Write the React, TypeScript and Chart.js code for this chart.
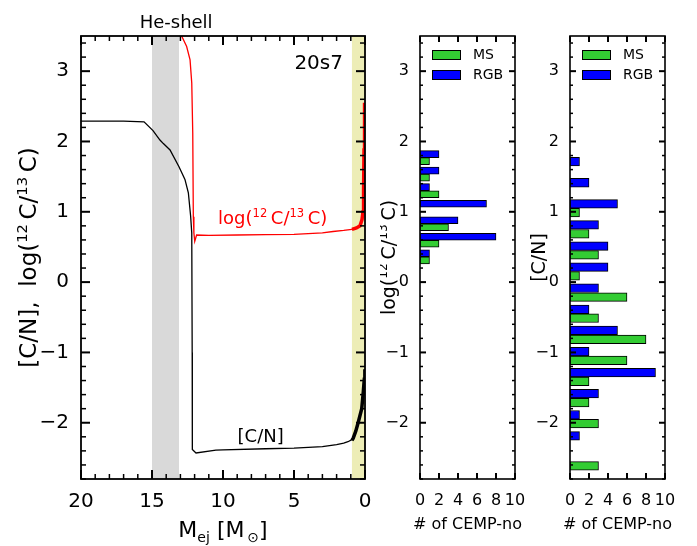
import { useEffect, useRef } from 'react';
import { Chart, registerables } from 'chart.js';

Chart.register(...registerables);

const FONT = "'DejaVu Sans', Verdana, sans-serif";

// [C/N] across the ejected mass of model 20s7 (thin part outside the outer layer)
const cnMass = [20, 17, 15.56, 14.93, 14.44, 14.2, 13.73, 13.1, 12.68, 12.44, 12.28, 12.2, 12.17, 12.16, 11.9, 10.5, 10, 7, 5, 3, 2, 1.5, 1.2, 0.92];
const cnValue = [2.29, 2.29, 2.28, 2.155, 2.02, 1.97, 1.88, 1.64, 1.46, 1.27, 0.94, 0.7, -1.0, -2.38, -2.43, -2.39, -2.385, -2.37, -2.36, -2.34, -2.31, -2.29, -2.27, -2.24];
// [C/N] in the outermost ejected layer (drawn thick)
const cnOuterMass = [0.92, 0.83, 0.65, 0.47, 0.23, 0.12, 0.05, 0.01];
const cnOuterValue = [-2.25, -2.22, -2.12, -1.99, -1.8, -1.56, -1.38, -1.24];

// log(12C/13C) across the ejected mass
const ratioMass = [13.05, 12.91, 12.56, 12.32, 12.2, 12.13, 12.09, 12.05, 11.99, 11.86, 11, 9, 7, 5, 3, 2.25, 1.5, 0.92];
const ratioValue = [3.8, 3.5, 3.35, 3.16, 2.83, 2.12, 0.93, 0.7, 0.58, 0.67, 0.665, 0.67, 0.675, 0.68, 0.7, 0.72, 0.735, 0.75];
const ratioOuterMass = [0.92, 0.6, 0.35, 0.21, 0.14, 0.1, 0.07, 0.03];
const ratioOuterValue = [0.75, 0.77, 0.8, 0.89, 1.0, 1.3, 1.88, 2.55];

// shaded mass ranges
const heShellRange = [13.1, 15];
const outerLayerRange = [0, 0.92];

// CEMP-no star counts per log(12C/13C) bin
const ratioBins = [1.77, 1.535, 1.3, 1.065, 0.83, 0.595, 0.36];
const ratioMS = [1, 1, 2, 0, 3, 2, 1];
const ratioRGB = [2, 2, 1, 7, 4, 8, 1];

// CEMP-no star counts per [C/N] bin
const cnBins = [1.65, 1.35, 1.05, 0.75, 0.45, 0.15, -0.15, -0.45, -0.75, -1.05, -1.35, -1.65, -1.95, -2.25, -2.55];
const cnMS = [0, 0, 1, 2, 3, 1, 6, 3, 8, 6, 2, 2, 3, 0, 3];
const cnRGB = [1, 2, 5, 3, 4, 4, 3, 2, 5, 2, 9, 3, 1, 1, 0];

const yMin = -2.8;
const yMax = 3.5;

type Seg = { t: string; s?: 'sup' | 'sub' };

function drawRich(
  ctx: CanvasRenderingContext2D,
  segs: Seg[],
  x: number,
  y: number,
  size: number,
  color: string,
  align: 'left' | 'center' | 'right' = 'center'
) {
  const small = size * 0.64;
  ctx.save();
  ctx.fillStyle = color;
  ctx.textAlign = 'left';
  ctx.textBaseline = 'alphabetic';
  let w = 0;
  for (const s of segs) {
    ctx.font = `${s.s ? small : size}px ${FONT}`;
    w += ctx.measureText(s.t).width;
  }
  let cx = align === 'center' ? x - w / 2 : align === 'right' ? x - w : x;
  for (const s of segs) {
    ctx.font = `${s.s ? small : size}px ${FONT}`;
    const dy = s.s === 'sup' ? -size * 0.4 : s.s === 'sub' ? size * 0.24 : 0;
    ctx.fillText(s.t, cx, y + dy);
    cx += ctx.measureText(s.t).width;
  }
  ctx.restore();
}

function drawRichVertical(ctx: CanvasRenderingContext2D, segs: Seg[], cx: number, cy: number, size: number) {
  ctx.save();
  ctx.translate(cx, cy);
  ctx.rotate(-Math.PI / 2);
  drawRich(ctx, segs, 0, size * 0.36, size, '#000');
  ctx.restore();
}

const ratioLabel: Seg[] = [
  { t: 'log(' },
  { t: '12', s: 'sup' },
  { t: '\u2009C/' },
  { t: '13', s: 'sup' },
  { t: '\u2009C)' },
];

function tickValues(lo: number, hi: number, step: number): number[] {
  const out: number[] = [];
  const first = Math.ceil(lo / step - 1e-9);
  const last = Math.floor(hi / step + 1e-9);
  for (let i = first; i <= last; i++) out.push(i * step);
  return out;
}

const isMultiple = (v: number, m: number) => Math.abs(v / m - Math.round(v / m)) < 1e-6;

// Box frame with inward ticks on all four sides
function framePlugin(o: any) {
  return {
    id: 'boxFrame',
    afterDraw(chart: any) {
      const ctx: CanvasRenderingContext2D = chart.ctx;
      const area = chart.chartArea;
      const sx = chart.scales.x;
      const sy = chart.scales.y;
      const L = area.left;
      const R = area.right;
      const T = area.top;
      const B = area.bottom;
      ctx.save();
      ctx.fillStyle = '#000';
      tickValues(o.xRange[0], o.xRange[1], o.xMinor).forEach((v) => {
        const major = isMultiple(v, o.xMajor);
        const len = major ? o.major : o.minor;
        const w = major ? o.majorW : o.minorW;
        const px = sx.getPixelForValue(v);
        ctx.fillRect(px - w / 2, B - len, w, len);
        ctx.fillRect(px - w / 2, T, w, len);
      });
      tickValues(yMin, yMax, o.yMinor).forEach((v) => {
        const major = isMultiple(v, o.yMajor);
        const len = major ? o.major : o.minor;
        const w = major ? o.majorW : o.minorW;
        const py = sy.getPixelForValue(v);
        ctx.fillRect(L, py - w / 2, len, w);
        ctx.fillRect(R - len, py - w / 2, len, w);
      });
      ctx.strokeStyle = '#000';
      ctx.lineWidth = o.lw;
      ctx.strokeRect(L, T, R - L, B - T);
      ctx.restore();
    },
  };
}

const minusLabel = (v: any) => {
  const n = Number(v);
  return n < 0 ? '\u2212' + Math.abs(n) : String(n);
};

const keepIntegers = (s: any) => {
  s.ticks = s.ticks.filter((t: any) => Math.abs(t.value - Math.round(t.value)) < 1e-6);
};

const toPoints = (xs: number[], ys: number[]) => xs.map((x, i) => ({ x, y: ys[i] }));

function mainChart(canvas: HTMLCanvasElement) {
  const annotations = {
    id: 'profileAnnotations',
    beforeDatasetsDraw(chart: any) {
      const { ctx, chartArea: a } = chart;
      const x = chart.scales.x;
      ctx.save();
      ctx.fillStyle = '#d9d9d9';
      const g0 = x.getPixelForValue(heShellRange[1]);
      const g1 = x.getPixelForValue(heShellRange[0]);
      ctx.fillRect(g0, a.top, g1 - g0, a.bottom - a.top);
      ctx.fillStyle = '#ededb6';
      const y0 = x.getPixelForValue(outerLayerRange[1]);
      const y1 = x.getPixelForValue(outerLayerRange[0]);
      ctx.fillRect(y0, a.top, y1 - y0, a.bottom - a.top);
      ctx.restore();
    },
    afterDraw(chart: any) {
      const { ctx, chartArea: a } = chart;
      const x = chart.scales.x;
      const y = chart.scales.y;
      ctx.save();
      ctx.fillStyle = '#000';
      ctx.textBaseline = 'alphabetic';
      ctx.textAlign = 'center';
      ctx.font = `18px ${FONT}`;
      ctx.fillText('He-shell', x.getPixelForValue(13.3), a.top - 8);
      ctx.textAlign = 'right';
      ctx.font = `20px ${FONT}`;
      ctx.fillText('20s7', x.getPixelForValue(1.55), y.getPixelForValue(3.13) + 7);
      ctx.textAlign = 'center';
      ctx.font = `18px ${FONT}`;
      ctx.fillText('[C/N]', x.getPixelForValue(7.35), y.getPixelForValue(-2.18) + 7);
      ctx.restore();
      drawRich(ctx, ratioLabel, x.getPixelForValue(6.5), y.getPixelForValue(0.93) + 7, 18, '#ff0000');
      drawRichVertical(ctx, [{ t: '[C/N],  log(' }, { t: '12', s: 'sup' }, { t: '\u2009C/' }, { t: '13', s: 'sup' }, { t: '\u2009C)' }], 28, (a.top + a.bottom) / 2, 23);
      drawRich(
        ctx,
        [{ t: 'M' }, { t: 'ej', s: 'sub' }, { t: ' [M' }, { t: '\u2009\u2299', s: 'sub' }, { t: ']' }],
        (a.left + a.right) / 2,
        537,
        22,
        '#000'
      );
    },
  };

  return new Chart(canvas, {
    type: 'line',
    data: {
      datasets: [
        { data: toPoints(cnMass, cnValue), borderColor: '#000', borderWidth: 1.3 },
        { data: toPoints(cnOuterMass, cnOuterValue), borderColor: '#000', borderWidth: 3.5 },
        { data: toPoints(ratioMass, ratioValue), borderColor: '#ff0000', borderWidth: 1.3 },
        { data: toPoints(ratioOuterMass, ratioOuterValue), borderColor: '#ff0000', borderWidth: 3.5 },
      ],
    },
    options: {
      animation: false,
      responsive: false,
      maintainAspectRatio: false,
      elements: { point: { radius: 0 }, line: { tension: 0 } },
      layout: { padding: { top: 36, right: 15, left: 0, bottom: 0 } },
      plugins: { legend: { display: false }, tooltip: { enabled: false } },
      scales: {
        x: {
          type: 'linear',
          reverse: true,
          min: 0,
          max: 20,
          afterFit: (s: any) => {
            s.height = 67;
          },
          afterBuildTicks: keepIntegers,
          ticks: { stepSize: 5, color: '#000', font: { family: FONT, size: 20 }, padding: 3, maxRotation: 0, autoSkip: false },
          grid: { display: false },
          border: { display: false },
        },
        y: {
          type: 'linear',
          min: yMin,
          max: yMax,
          afterFit: (s: any) => {
            s.width = 81;
          },
          afterBuildTicks: keepIntegers,
          ticks: { stepSize: 1, color: '#000', font: { family: FONT, size: 20 }, padding: 4, callback: minusLabel, autoSkip: false },
          grid: { display: false },
          border: { display: false },
        },
      },
    },
    plugins: [
      annotations,
      framePlugin({ major: 9, minor: 5, majorW: 2, minorW: 1.5, xRange: [0, 20], xMajor: 5, xMinor: 1, yMajor: 1, yMinor: 0.2, lw: 1.8 }),
    ],
  } as any);
}

function histChart(
  canvas: HTMLCanvasElement,
  bins: number[],
  ms: number[],
  rgb: number[],
  half: number,
  thickness: number,
  rightPad: number,
  title: Seg[]
) {
  const bars = (counts: number[], shift: number) =>
    bins
      .map((c, i) => (counts[i] > 0 ? { x: counts[i], y: c + shift } : null))
      .filter((p) => p !== null);

  const legendAndTitle = {
    id: 'histLegend',
    afterDraw(chart: any) {
      const { ctx, chartArea: a } = chart;
      ctx.save();
      const rows = [
        { label: 'MS', color: '#33cc33', top: a.top + 14 },
        { label: 'RGB', color: '#0000ff', top: a.top + 34 },
      ];
      ctx.font = `14px ${FONT}`;
      ctx.textBaseline = 'middle';
      ctx.textAlign = 'left';
      for (const r of rows) {
        ctx.fillStyle = r.color;
        ctx.fillRect(a.left + 12, r.top, 29, 10);
        ctx.strokeStyle = '#000';
        ctx.lineWidth = 1;
        ctx.strokeRect(a.left + 12.5, r.top + 0.5, 28, 9);
        ctx.fillStyle = '#000';
        ctx.fillText(r.label, a.left + 53, r.top + 5.5);
      }
      ctx.font = `16px ${FONT}`;
      ctx.textAlign = 'center';
      ctx.textBaseline = 'alphabetic';
      ctx.fillText('# of CEMP-no', (a.left + a.right) / 2, 529);
      ctx.restore();
      drawRichVertical(ctx, title, 8, (a.top + a.bottom) / 2, 19);
    },
  };

  return new Chart(canvas, {
    type: 'bar',
    data: {
      datasets: [
        {
          label: 'MS',
          data: bars(ms, -half),
          backgroundColor: '#33cc33',
          borderColor: '#000',
          borderWidth: 1,
          borderSkipped: false,
          barThickness: thickness,
          grouped: false,
        },
        {
          label: 'RGB',
          data: bars(rgb, half),
          backgroundColor: '#0000ff',
          borderColor: '#000',
          borderWidth: 1,
          borderSkipped: false,
          barThickness: thickness,
          grouped: false,
        },
      ],
    },
    options: {
      indexAxis: 'y',
      animation: false,
      responsive: false,
      maintainAspectRatio: false,
      layout: { padding: { top: 36, right: rightPad, left: 0, bottom: 0 } },
      plugins: { legend: { display: false }, tooltip: { enabled: false } },
      scales: {
        x: {
          type: 'linear',
          min: 0,
          max: 10,
          afterFit: (s: any) => {
            s.height = 67;
          },
          ticks: { stepSize: 2, color: '#000', font: { family: FONT, size: 16 }, padding: 4, maxRotation: 0, autoSkip: false },
          grid: { display: false },
          border: { display: false },
        },
        y: {
          type: 'linear',
          offset: false,
          min: yMin,
          max: yMax,
          afterFit: (s: any) => {
            s.width = 40;
          },
          afterBuildTicks: keepIntegers,
          ticks: { stepSize: 1, color: '#000', font: { family: FONT, size: 16 }, padding: 3, callback: minusLabel, autoSkip: false },
          grid: { display: false },
          border: { display: false },
        },
      },
    },
    plugins: [
      legendAndTitle,
      framePlugin({ major: 6, minor: 3, majorW: 2, minorW: 1.5, xRange: [0, 10], xMajor: 2, xMinor: 2, yMajor: 1, yMinor: 0.2, lw: 1.6 }),
    ],
  } as any);
}

export default function App() {
  const mainRef = useRef<HTMLCanvasElement>(null);
  const ratioRef = useRef<HTMLCanvasElement>(null);
  const cnRef = useRef<HTMLCanvasElement>(null);

  useEffect(() => {
    const charts = [
      mainChart(mainRef.current!),
      histChart(ratioRef.current!, ratioBins, ratioMS, ratioRGB, 0.05, 7, 15, ratioLabel),
      histChart(cnRef.current!, cnBins, cnMS, cnRGB, 0.063, 8.6, 32, [{ t: '[C/N]' }]),
    ];
    return () => charts.forEach((c) => c.destroy());
  }, []);

  return (
    <div style={{ position: 'absolute', left: 0, top: 0, width: 697, height: 546, background: '#fff' }}>
      <canvas ref={mainRef} width={380} height={546} style={{ position: 'absolute', left: 0, top: 0 }} />
      <canvas ref={ratioRef} width={150} height={546} style={{ position: 'absolute', left: 380, top: 0 }} />
      <canvas ref={cnRef} width={167} height={546} style={{ position: 'absolute', left: 530, top: 0 }} />
    </div>
  );
}
